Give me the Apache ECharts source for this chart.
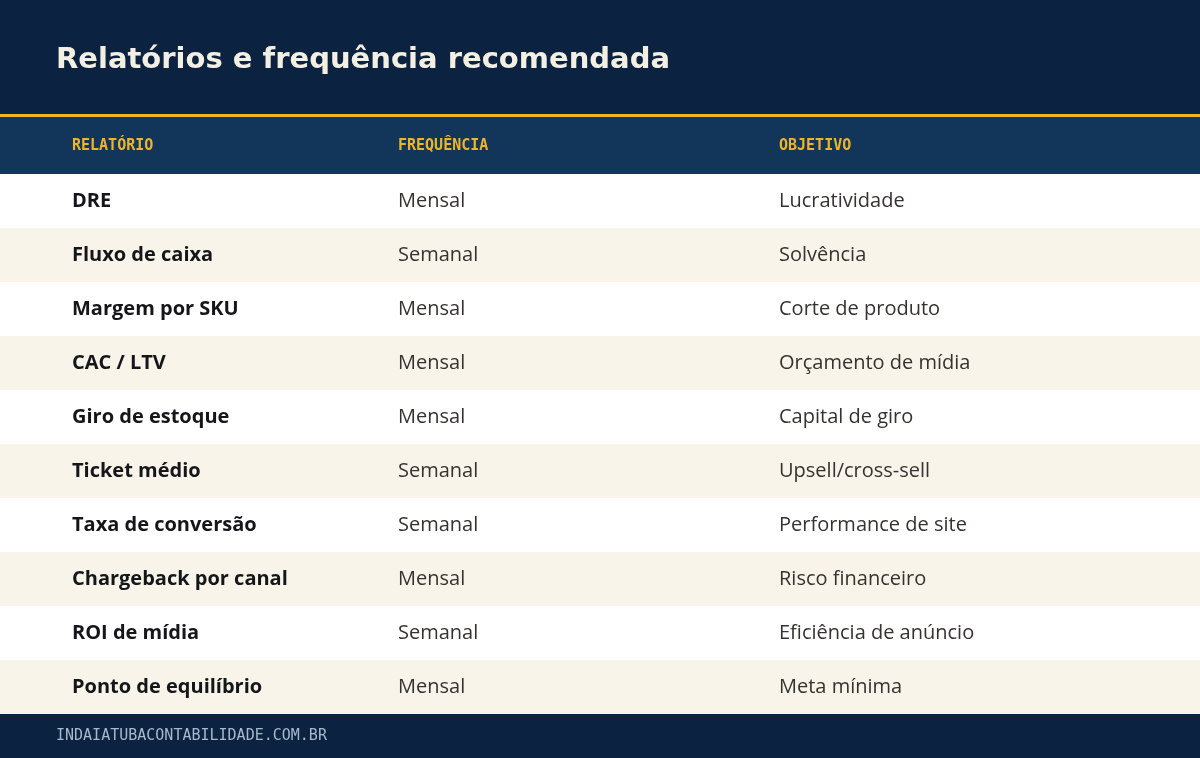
<!DOCTYPE html>
<html><head><meta charset="utf-8">
<script src="https://cdn.jsdelivr.net/npm/echarts@6/dist/echarts.min.js"></script>
<style>html,body{margin:0;padding:0;background:#0b2340}#c{width:1200px;height:758px}</style>
</head><body><div id="c"></div>
<script>
const title = 'Relatórios e frequência recomendada';
const headers = ['RELATÓRIO', 'FREQUÊNCIA', 'OBJETIVO'];
const reports = ['DRE','Fluxo de caixa','Margem por SKU','CAC / LTV','Giro de estoque','Ticket médio','Taxa de conversão','Chargeback por canal','ROI de mídia','Ponto de equilíbrio'];
const frequencies = ['Mensal','Semanal','Mensal','Mensal','Mensal','Semanal','Semanal','Mensal','Semanal','Mensal'];
const objectives = ['Lucratividade','Solvência','Corte de produto','Orçamento de mídia','Capital de giro','Upsell/cross-sell','Performance de site','Risco financeiro','Eficiência de anúncio','Meta mínima'];
const footer = 'INDAIATUBACONTABILIDADE.COM.BR';

const colX = [72, 398, 779];
const top0 = 174, rowH = 54;
const els = [];
els.push({type:'rect', shape:{x:0,y:0,width:1200,height:114}, style:{fill:'#0b2340'}});
els.push({type:'rect', shape:{x:0,y:114,width:1200,height:3}, style:{fill:'#f0b429'}});
els.push({type:'rect', shape:{x:0,y:117,width:1200,height:57}, style:{fill:'#12365a'}});
els.push({type:'text', x:56, y:60, style:{text:title, fill:'#f4efe3', font:'bold 29px "DejaVu Sans", sans-serif', verticalAlign:'middle'}});
headers.forEach((h,i)=>els.push({type:'text', x:colX[i], y:146, style:{text:h, fill:'#f0b429', font:'bold 15px "DejaVu Sans Mono", monospace', verticalAlign:'middle'}}));
reports.forEach((r,i)=>{
  const y = top0 + i*rowH;
  els.push({type:'rect', shape:{x:0,y:y,width:1200,height:rowH}, style:{fill: i%2 ? '#f8f4e9' : '#ffffff'}});
  els.push({type:'text', x:colX[0], y:y+rowH/2, style:{text:r, fill:'#14161a', font:'bold 20px "Open Sans", sans-serif', verticalAlign:'middle'}});
  els.push({type:'text', x:colX[1], y:y+rowH/2, style:{text:frequencies[i], fill:'#35332f', font:'20px "Open Sans", sans-serif', verticalAlign:'middle'}});
  els.push({type:'text', x:colX[2], y:y+rowH/2, style:{text:objectives[i], fill:'#35332f', font:'20px "Open Sans", sans-serif', verticalAlign:'middle'}});
});
els.push({type:'rect', shape:{x:0,y:714,width:1200,height:44}, style:{fill:'#0b2340'}});
els.push({type:'text', x:56, y:736, style:{text:footer, fill:'#a9b8cc', font:'15px "DejaVu Sans Mono", monospace', verticalAlign:'middle'}});

const chart = echarts.init(document.getElementById('c'));
chart.setOption({animation:false, graphic:{elements:els}});
</script></body></html>
